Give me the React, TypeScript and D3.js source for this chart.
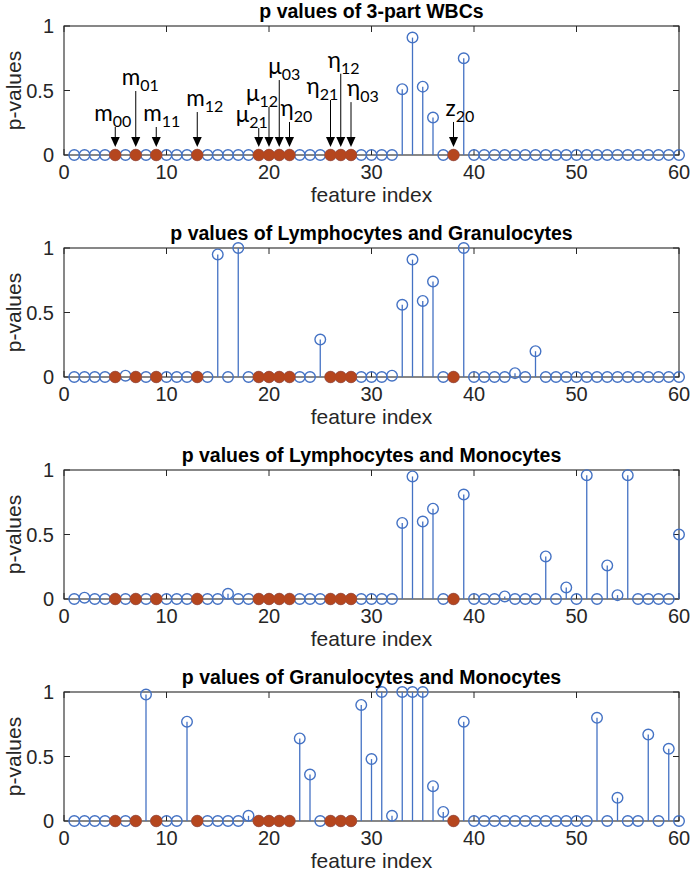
import React from "react";
import * as d3 from "d3";

// ---------- data ----------
const featureIndex = d3.range(1, 61);

const titles = [
  "p values of 3-part WBCs",
  "p values of Lymphocytes and Granulocytes",
  "p values of Lymphocytes and Monocytes",
  "p values of Granulocytes and Monocytes",
];

const pWBC3 = [
  0, 0, 0, 0, 0, 0, 0, 0, 0, 0,
  0, 0, 0, 0, 0, 0, 0, 0, 0, 0,
  0, 0, 0, 0, 0, 0, 0, 0, 0, 0,
  0, 0, 0.51, 0.91, 0.53, 0.29, 0, 0, 0.75, 0,
  0, 0, 0, 0, 0, 0, 0, 0, 0, 0,
  0, 0, 0, 0, 0, 0, 0, 0, 0, 0,
];
const pLymGra = [
  0, 0, 0, 0, 0, 0.01, 0, 0, 0, 0,
  0, 0, 0, 0, 0.95, 0, 1, 0, 0, 0,
  0, 0, 0, 0, 0.29, 0, 0, 0, 0, 0,
  0, 0.01, 0.56, 0.91, 0.59, 0.74, 0, 0, 1, 0,
  0, 0, 0, 0.03, 0, 0.2, 0, 0, 0, 0,
  0, 0, 0, 0, 0, 0, 0, 0, 0, 0,
];
const pLymMon = [
  0, 0.01, 0, 0, 0, 0, 0, 0, 0, 0,
  0, 0, 0, 0, 0, 0.04, 0, 0, 0, 0,
  0, 0, 0, 0, 0, 0, 0, 0, 0, 0,
  0, 0, 0.59, 0.95, 0.6, 0.7, 0, 0, 0.81, 0,
  0, 0, 0.02, 0, 0, 0, 0.33, 0, 0.09, 0,
  0.96, 0, 0.26, 0.03, 0.96, 0, 0, 0, 0, 0.5,
];
const pGraMon = [
  0, 0, 0, 0, 0, 0, 0, 0.98, 0, 0,
  0, 0.77, 0, 0, 0, 0, 0, 0.04, 0, 0,
  0, 0, 0.64, 0.36, 0, 0, 0, 0, 0.9, 0.48,
  1, 0.04, 1, 1, 1, 0.27, 0.07, 0, 0.77, 0,
  0, 0, 0, 0, 0, 0, 0, 0, 0, 0,
  0, 0.8, 0, 0.18, 0, 0, 0.67, 0, 0.56, 0,
];
const panelValues = [pWBC3, pLymGra, pLymMon, pGraMon];

const selectedFeatures = [5, 7, 9, 13, 19, 20, 21, 22, 26, 27, 28, 38];

const xTicks = [0, 10, 20, 30, 40, 50, 60];
const yTicks = [0, 0.5, 1];

// annotations for first panel: symbol, subscript, feature index, arrow tail (value units), label dx (px)
const annoSymbol = ["m", "m", "m", "m", "μ", "μ", "μ", "η", "η", "η", "η", "z"];
const annoSub = ["00", "01", "11", "12", "21", "12", "03", "20", "21", "12", "03", "20"];
const annoIndex = [5, 7, 9, 13, 19, 20, 21, 22, 26, 27, 28, 38];
const annoTail = [0.217, 0.496, 0.217, 0.333, 0.209, 0.372, 0.581, 0.256, 0.426, 0.63, 0.41, 0.256];
const annoDx = [-21, -14, -13, -11, -23, -23, -11, -9, -24, -13, -4, -8];

// ---------- style ----------
const W = 692;
const H = 880;
const LEFT = 64;
const RIGHT = 679;
const TOP0 = 26;
const STEP = 222;
const PH = 129;
const BLUE = "#4472C4";
const RED = "#B5461E";
const AX = "#262626";
const SANS = "'Liberation Sans', Arial, sans-serif";
const LABELFONT = "Lato, Carlito, 'Noto Sans', sans-serif";

function Panel({ i }: { i: number }) {
  const top = TOP0 + i * STEP;
  const x = d3.scaleLinear().domain([0, 60]).range([LEFT, RIGHT]);
  const y = d3.scaleLinear().domain([0, 1]).range([top + PH, top]);
  const vals = panelValues[i];
  const r = 5.3;
  return (
    <g>
      {/* box */}
      <rect x={LEFT} y={top} width={RIGHT - LEFT} height={PH} fill="none" stroke={AX} strokeWidth={1.1} />
      {/* ticks */}
      {xTicks.map((t) => (
        <g key={"xt" + t}>
          <line x1={x(t)} x2={x(t)} y1={y(0)} y2={y(0) - 6} stroke={AX} strokeWidth={1} />
          <line x1={x(t)} x2={x(t)} y1={y(1)} y2={y(1) + 6} stroke={AX} strokeWidth={1} />
          <text x={x(t)} y={y(0) + 24} textAnchor="middle" fontFamily={SANS} fontSize={20} fill={AX}>
            {t}
          </text>
        </g>
      ))}
      {yTicks.map((t) => (
        <g key={"yt" + t}>
          <line x1={LEFT} x2={LEFT + 6} y1={y(t)} y2={y(t)} stroke={AX} strokeWidth={1} />
          <line x1={RIGHT} x2={RIGHT - 6} y1={y(t)} y2={y(t)} stroke={AX} strokeWidth={1} />
          <text x={LEFT - 10} y={y(t)} dy="0.36em" textAnchor="end" fontFamily={SANS} fontSize={20} fill={AX}>
            {t}
          </text>
        </g>
      ))}
      {/* stems */}
      {featureIndex.map((f, k) =>
        vals[k] > 0.015 ? (
          <line key={"s" + f} x1={x(f)} x2={x(f)} y1={y(0)} y2={y(vals[k])} stroke={BLUE} strokeWidth={1.3} />
        ) : null
      )}
      {featureIndex.map((f, k) => (
        <circle key={"c" + f} cx={x(f)} cy={y(vals[k])} r={r} fill="none" stroke={BLUE} strokeWidth={1.4} />
      ))}
      {selectedFeatures.map((f) => (
        <circle key={"f" + f} cx={x(f)} cy={y(0)} r={r + 0.5} fill={RED} stroke={RED} strokeWidth={0.6} />
      ))}
      {/* labels */}
      <text x={(LEFT + RIGHT) / 2} y={top - 8} textAnchor="middle" fontFamily={SANS} fontWeight="bold" fontSize={19.5} fill="#000">
        {titles[i]}
      </text>
      <text x={(LEFT + RIGHT) / 2} y={y(0) + 47} textAnchor="middle" fontFamily={SANS} fontSize={21} fill={AX}>
        feature index
      </text>
      <text
        transform={`translate(21, ${top + PH / 2}) rotate(-90)`}
        textAnchor="middle"
        fontFamily={SANS}
        fontSize={21}
        fill={AX}
      >
        p-values
      </text>
      {i === 0 &&
        annoIndex.map((f, k) => {
          const ax = x(f);
          const ty = y(annoTail[k]);
          const tip = y(0) - 8;
          return (
            <g key={"a" + k}>
              <line x1={ax} x2={ax} y1={ty} y2={tip - 9} stroke="#000" strokeWidth={1} />
              <path d={`M${ax - 4.5},${tip - 10} L${ax + 4.5},${tip - 10} L${ax},${tip} Z`} fill="#000" />
              <text x={ax + annoDx[k]} y={ty - 6} fontFamily={LABELFONT} fontSize={22.5} fill="#000">
                {annoSymbol[k]}
                <tspan fontSize={16} dy={6}>
                  {annoSub[k]}
                </tspan>
              </text>
            </g>
          );
        })}
    </g>
  );
}

export default function App() {
  return (
    <svg width={W} height={H} viewBox={`0 0 ${W} ${H}`} style={{ display: "block", position: "absolute", left: 0, top: 0, background: "#fff" }}>
      <rect width={W} height={H} fill="#fff" />
      {[0, 1, 2, 3].map((i) => (
        <Panel key={i} i={i} />
      ))}
    </svg>
  );
}
